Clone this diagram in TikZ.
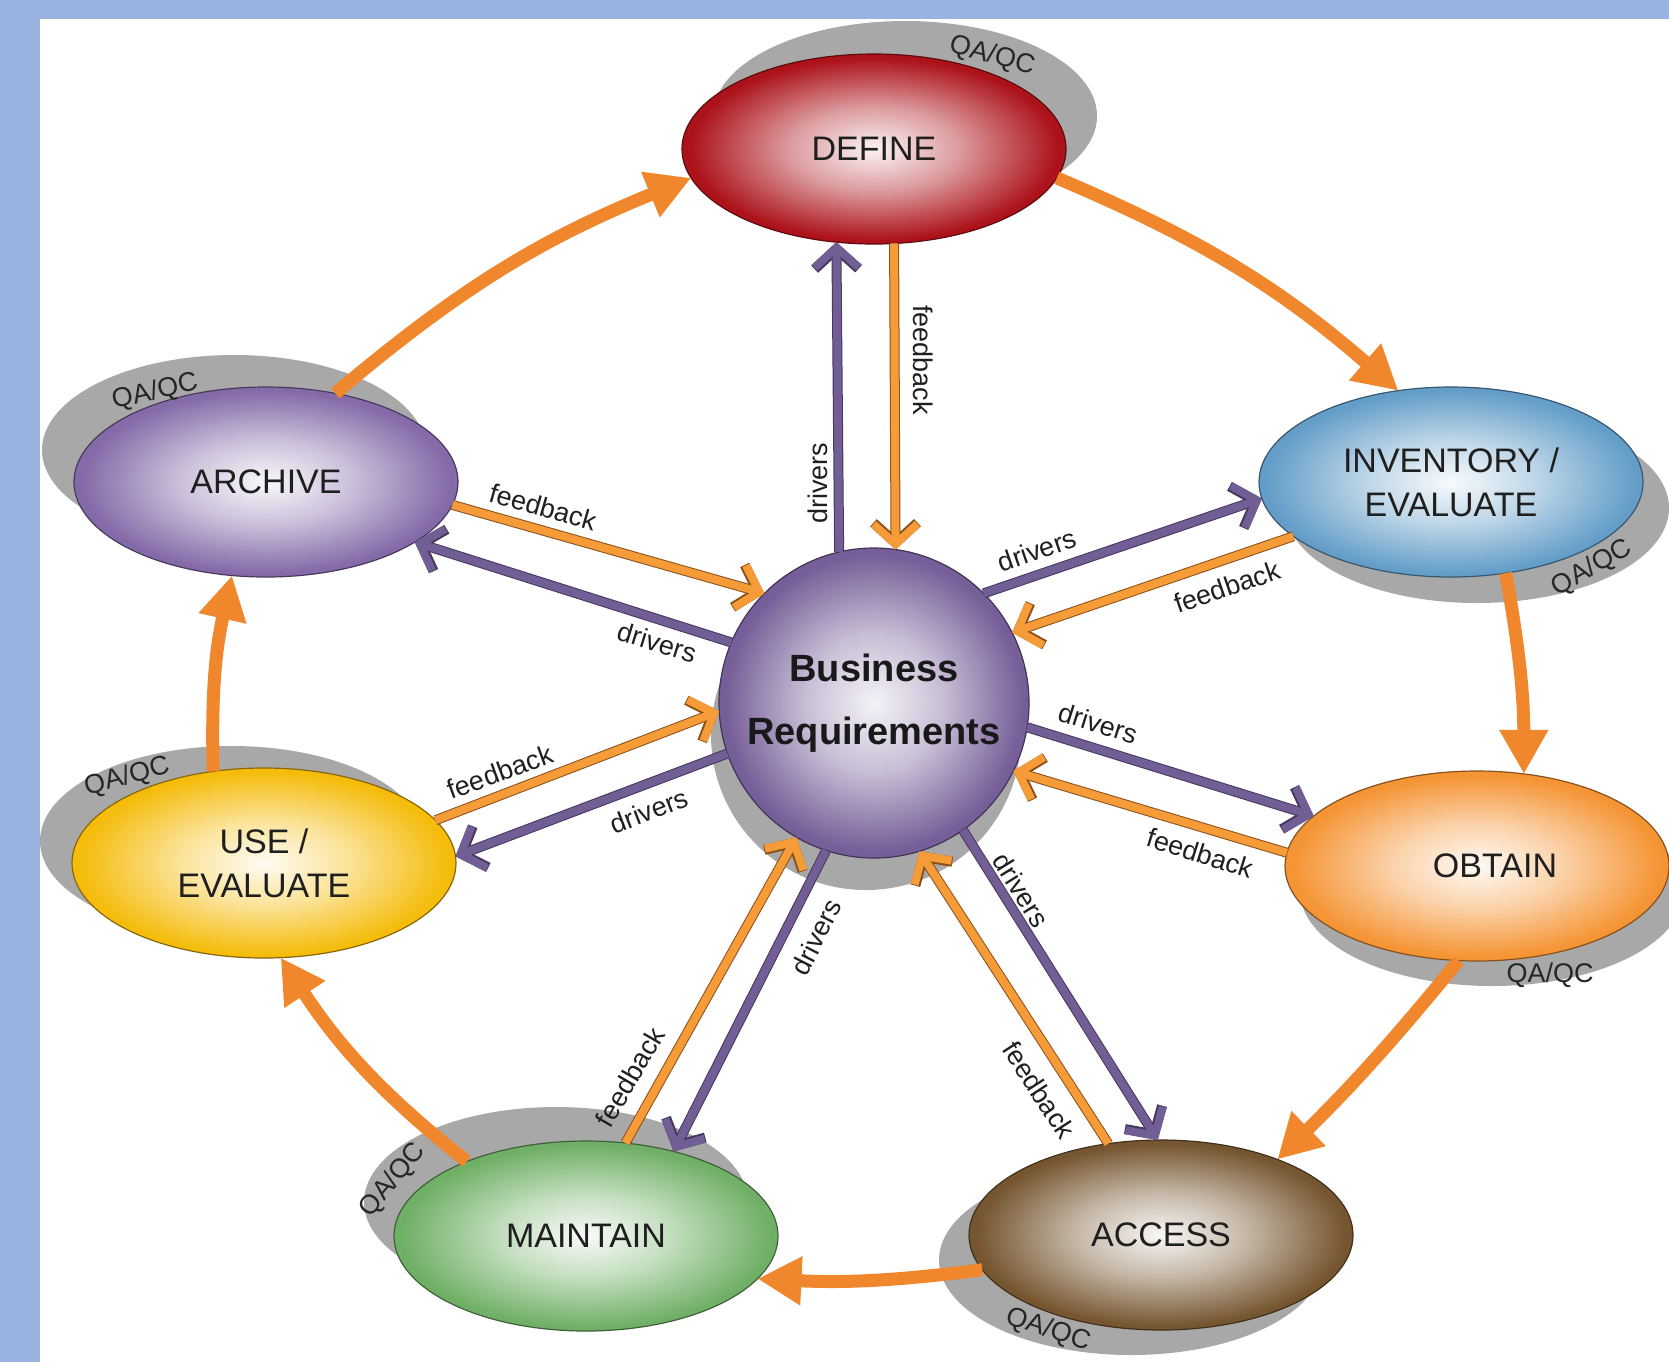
\documentclass[tikz,border=0pt]{standalone}
\usepackage{fontspec}
\setmainfont{Liberation Sans}
\usetikzlibrary{arrows.meta,shadows,shapes.geometric,positioning}

\definecolor{bgblue}{RGB}{154,178,224}
\definecolor{qagray}{RGB}{168,168,168}
\definecolor{flow}{RGB}{240,135,45}
\definecolor{fbfill}{RGB}{245,155,55}
\definecolor{fbline}{RGB}{140,80,25}
\definecolor{drvfill}{RGB}{112,94,148}
\definecolor{drvline}{RGB}{70,55,95}
\definecolor{defred}{RGB}{172,18,26}
\definecolor{invblue}{RGB}{100,158,200}
\definecolor{obtorange}{RGB}{245,148,52}
\definecolor{accbrown}{RGB}{118,86,48}
\definecolor{maingreen}{RGB}{112,176,102}
\definecolor{usegold}{RGB}{245,188,12}
\definecolor{archpurple}{RGB}{132,106,168}
\definecolor{reqpurple}{RGB}{118,94,152}

% only 0..25bp of a radial shading is seen inside the node
\pgfdeclareradialshading[glowin,glowmid,glowout]{glow}{\pgfpointorigin}{%
  color(0bp)=(glowin); color(11bp)=(glowmid); color(24bp)=(glowout); color(50bp)=(glowout)}

\tikzset{
  stage/.style={ellipse, minimum width=192pt, minimum height=95pt, inner sep=0pt,
    outer sep=0pt, align=center, draw=#1!55!black, line width=0.6pt,
    text=black!88, font=\fontsize{17}{22}\selectfont,
    /utils/exec={\colorlet{glowin}{#1!5!white}\colorlet{glowmid}{#1!42!white}\colorlet{glowout}{#1}},
    shade, shading=glow},
  core/.style={circle, minimum size=155pt, inner sep=0pt, outer sep=0pt, align=center,
    draw=reqpurple!55!black, line width=0.6pt, text=black!90,
    font=\bfseries\fontsize{19}{31.5}\selectfont,
    /utils/exec={\colorlet{glowin}{reqpurple!8!white}\colorlet{glowmid}{reqpurple!40!white}\colorlet{glowout}{reqpurple}},
    shade, shading=glow},
  qa shadow/.style 2 args={general shadow={shadow xshift=#1, shadow yshift=#2,
    fill=qagray, draw=none}},
  qa/.style={font=\fontsize{13.5}{16}\selectfont, text=black!85, inner sep=1pt},
  tag/.style={font=\fontsize{13.5}{16}\selectfont, text=black!88, inner sep=1pt},
  loopflow/.style={draw=flow, line width=6.5pt, -{Triangle[length=22pt,width=23pt]}},
  driver/.style={draw=drvfill, line width=4pt, -{Straight Barb[length=10pt,width=22pt]},
    preaction={draw=drvline, line width=5pt, -{Straight Barb[length=10pt,width=22pt]}}},
  fback/.style={draw=fbfill, line width=4pt, -{Straight Barb[length=10pt,width=22pt]},
    preaction={draw=fbline, line width=5pt, -{Straight Barb[length=10pt,width=22pt]}}},
}

\begin{document}
\begin{tikzpicture}[x=0.5pt, y=-0.5pt]

% frame
\fill[bgblue] (0,0) rectangle (1669,1362);
\fill[white] (40,19) rectangle (1669,1362);
\useasboundingbox (0,0) rectangle (1669,1362);

% stages
\node[stage=defred, qa shadow={15.5pt}{16.5pt}] (define) at (874,149) {DEFINE};
\node[stage=invblue, qa shadow={13pt}{-13pt}] (inventory) at (1451,482) {INVENTORY /\\EVALUATE};
\node[stage=obtorange, qa shadow={7.5pt}{-12.5pt}] (obtain) at (1477,866) {\hspace*{18pt}OBTAIN};
\node[stage=accbrown, qa shadow={-15pt}{-12.5pt}] (access) at (1161,1235) {ACCESS};
\node[stage=maingreen, qa shadow={-15pt}{17pt}] (maintain) at (586,1236) {MAINTAIN};
\node[stage=usegold, qa shadow={-16pt}{11pt}] (use) at (264,863) {USE /\\EVALUATE};
\node[stage=archpurple, qa shadow={-16pt}{16pt}] (archive) at (266,482) {ARCHIVE};
\node[core, qa shadow={-4pt}{-16pt}] (req) at (874,703) {Business\\Requirements};

\foreach \n/\x/\y/\r in {define/992/56/-15, inventory/1592/568/30, obtain/1550/975/0,
    access/1048/1330/-18, maintain/393/1180/50, use/127/777/15, archive/155/392/13}
  \node[qa, rotate=\r] (qa\n) at (\x,\y) {QA/QC};

% outer cycle
\foreach \a/\p/\b/\q/\bend in {archive/52/define/189.5/9, define/351/inventory/120.4/9,
    inventory/301.5/obtain/63.4/5, obtain/259.5/access/33.1/3,
    access/191.1/maintain/346.4/5, maintain/148.9/use/280.3/9, use/119.2/archive/250/7}
  \draw[loopflow] (\a.\p) to[bend left=\bend] (\b.\q);

% drivers and feedback
\foreach \n/\p/\q/\r/\s in {define/103.8/248.6/282.4/82.2, inventory/45/185.4/199.1/27,
    obtain/351.3/163.6/176.7/334.4, access/305.9/92.4/120.1/287.1,
    maintain/252.3/44.7/67.4/240.1, use/199.8/2.4/14.5/183.4, archive/157/338.1/353.6/135.3}
{
  \draw[driver] (req.\p) -- (\n.\q);
  \draw[fback] (\n.\r) -- (req.\s);
}

\foreach \i/\x/\y/\r/\t in {1/818/483/90/drivers, 2/923/360/-90/feedback,
    3/1037/550/19/drivers, 4/1227/587/19/feedback,
    5/1098/723/-17.5/drivers, 6/1200/853/-17.5/feedback,
    7/1021/890/-58/drivers, 8/1039/1090/-57/feedback,
    9/816/937/63/drivers, 10/630/1077/60/feedback,
    11/649/811/21/drivers, 12/500/772/20/feedback,
    13/657/642/-17/drivers, 14/543/507/-16/feedback}
  \node[tag, rotate=\r] (tag\i) at (\x,\y) {\t};

\end{tikzpicture}
\end{document}
